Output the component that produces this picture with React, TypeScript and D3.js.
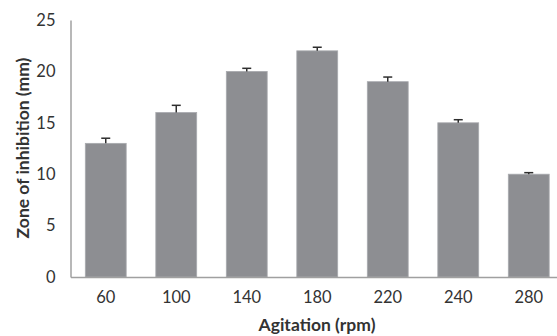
import { useEffect, useRef } from "react";
import * as d3 from "d3";

const categories = ["60", "100", "140", "180", "220", "240", "280"];
const values = [13, 16, 20, 22, 19, 15, 10];
const errors = [0.5, 0.7, 0.3, 0.35, 0.45, 0.3, 0.15];
const yTicks = [0, 5, 10, 15, 20, 25];

export default function App() {
  const ref = useRef<SVGSVGElement>(null);

  useEffect(() => {
    const svg = d3.select(ref.current);
    svg.selectAll("*").remove();
    const width = 557;
    const height = 336;
    const font = "Lato, 'Open Sans', sans-serif";

    const x = d3.scaleBand().domain(categories).range([70.5, 564]).paddingInner(0.42).paddingOuter(0.21);
    const y = d3.scaleLinear().domain([0, 25]).range([277, 20]);

    const data = categories.map((c, i) => ({ c, v: values[i], e: errors[i] }));

    // bars
    svg
      .selectAll(".bar")
      .data(data)
      .enter()
      .append("rect")
      .attr("x", (d) => x(d.c)!)
      .attr("y", (d) => y(d.v))
      .attr("width", x.bandwidth())
      .attr("height", (d) => y(0) - y(d.v))
      .attr("fill", "#8d8e92")
      .attr("stroke", "#a9aaae")
      .attr("stroke-width", 0.8);

    // error bars
    const eb = svg.append("g").attr("stroke", "#2e2e2e").attr("stroke-width", 1.5);
    data.forEach((d) => {
      const cx = x(d.c)! + x.bandwidth() / 2;
      eb.append("line").attr("x1", cx).attr("x2", cx).attr("y1", y(d.v)).attr("y2", y(d.v + d.e));
      eb.append("line").attr("x1", cx - 4.5).attr("x2", cx + 4.5).attr("y1", y(d.v + d.e)).attr("y2", y(d.v + d.e));
    });

    // axes
    const xAxis = svg
      .append("g")
      .attr("transform", `translate(0,${y(0)})`)
      .call(d3.axisBottom(x).tickSize(0).tickPadding(14));
    xAxis.select(".domain").attr("stroke", "#a0a0a0").attr("stroke-width", 1.5);
    xAxis.selectAll("text").attr("font-family", font).attr("font-size", 16.5).attr("fill", "#333");

    const yAxis = svg
      .append("g")
      .attr("transform", `translate(70.5,0)`)
      .call(d3.axisLeft(y).tickValues(yTicks).tickSize(0).tickPadding(15));
    yAxis.select(".domain").attr("stroke", "#a0a0a0").attr("stroke-width", 1.5);
    yAxis.selectAll("text").attr("font-family", font).attr("font-size", 16.5).attr("fill", "#333");

    svg
      .append("text")
      .attr("x", 317)
      .attr("y", 331)
      .attr("text-anchor", "middle")
      .attr("font-family", font)
      .attr("font-weight", "bold")
      .attr("font-size", 17.5)
      .attr("fill", "#333")
      .text("Agitation (rpm)");

    svg
      .append("text")
      .attr("transform", `translate(29,148) rotate(-90)`)
      .attr("text-anchor", "middle")
      .attr("font-family", font)
      .attr("font-weight", "bold")
      .attr("font-size", 17.5)
      .attr("fill", "#333")
      .text("Zone of inhibition (mm)");

    svg.attr("width", width).attr("height", height);
  }, []);

  return (
    <div style={{ position: "absolute", left: 0, top: 0, background: "#fff" }}>
      <svg ref={ref} style={{ display: "block" }}></svg>
    </div>
  );
}
